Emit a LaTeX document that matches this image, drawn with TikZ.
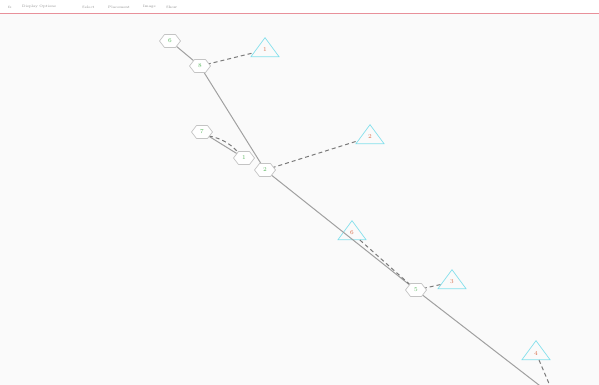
\documentclass[tikz,border=0pt]{standalone}
\usetikzlibrary{shapes.geometric}
\definecolor{hexline}{HTML}{C4C4C4}
\definecolor{hextext}{HTML}{5DB862}
\definecolor{tritext}{HTML}{D8704E}
\definecolor{triline}{HTML}{84E0EC}
\definecolor{edgecol}{HTML}{A0A0A0}
\definecolor{dashcol}{HTML}{7A7A7A}
\definecolor{bgcol}{HTML}{FAFAFA}
\definecolor{redline}{HTML}{E8909A}
\definecolor{menutext}{HTML}{8A8A8A}
\tikzset{
  hexshape/.style={draw=hexline, fill=white, line width=0.7pt, line join=round},
  hexnode/.style={rectangle, minimum width=21pt, minimum height=13pt, inner sep=0pt,
    text=hextext, font=\fontsize{6}{7}\selectfont},
  trinode/.style={draw=triline, fill=none, line width=0.7pt, isosceles triangle,
    isosceles triangle apex angle=72, isosceles triangle stretches, shape border rotate=90,
    minimum width=28pt, minimum height=19pt, inner sep=0pt, text=tritext, font=\fontsize{6}{7}\selectfont},
  solidedge/.style={draw=edgecol, line width=1pt},
  dashedge/.style={draw=dashcol, line width=1pt, dash pattern=on 4pt off 3pt},
  menu/.style={text=menutext, font=\fontsize{3.5}{4}\selectfont, inner sep=0pt, anchor=west}
}
\begin{document}
\begin{tikzpicture}[x=1pt,y=-1pt]
\useasboundingbox (0,0) rectangle (599,385);
\clip (0,0) rectangle (599,385);
\fill[white] (0,0) rectangle (599,13);
\fill[bgcol] (0,13) rectangle (599,385);
\draw[redline, line width=0.8pt] (0,13) -- (599,13);
\node[menu] (m1) at (8,7) {fs};
\node[menu] (m2) at (22,7) {Display Options};
\node[menu] (m3) at (82,7) {Select};
\node[menu] (m4) at (108,7) {Placement};
\node[menu] (m5) at (143,7) {Image};
\node[menu] (m6) at (166,7) {Show};
% triangle nodes
\node[trinode] (t1) at (265,50) {1};
\node[trinode] (t2) at (370,137) {2};
\node[trinode] (t6) at (352,233) {6};
\node[trinode] (t3) at (452,282) {3};
\node[trinode] (t4) at (536,353) {4};
\coordinate (off1) at (570,409);
\coordinate (off2) at (556,400);
% hexagon node positions
\coordinate (c6) at (170,41);
\coordinate (c8) at (200,66);
\coordinate (c7) at (202,132);
\coordinate (c1) at (244,158);
\coordinate (c2) at (265,170);
\coordinate (c5) at (416,290);
% edges
\draw[solidedge] (c6) -- (c8);
\draw[solidedge] (c8) -- (c2);
\draw[solidedge] (c7) -- (c1);
\draw[solidedge] (c2) -- (c5);
\draw[solidedge] (c5) -- (off1);
\draw[dashedge] (c8) -- (t1);
\draw[dashedge] (c2) -- (t2);
\draw[dashedge] (c5) -- (t3);
\draw[dashedge] (t6) -- (c5);
\draw[dashedge] ([yshift=-3pt]c7) to[bend left=25] ([yshift=-2pt]c1);
\draw[dashedge] (t4) -- (off2);
% hexagon nodes on top
\foreach \n in {6,8,7,1,2,5}{
  \filldraw[hexshape] (c\n) ++(-10.5,0) -- ++(5,-6.5) -- ++(11,0) -- ++(5,6.5)
     -- ++(-5,6.5) -- ++(-11,0) -- cycle;
  \node[hexnode] (h\n) at (c\n) {\n};
}
\end{tikzpicture}
\end{document}
